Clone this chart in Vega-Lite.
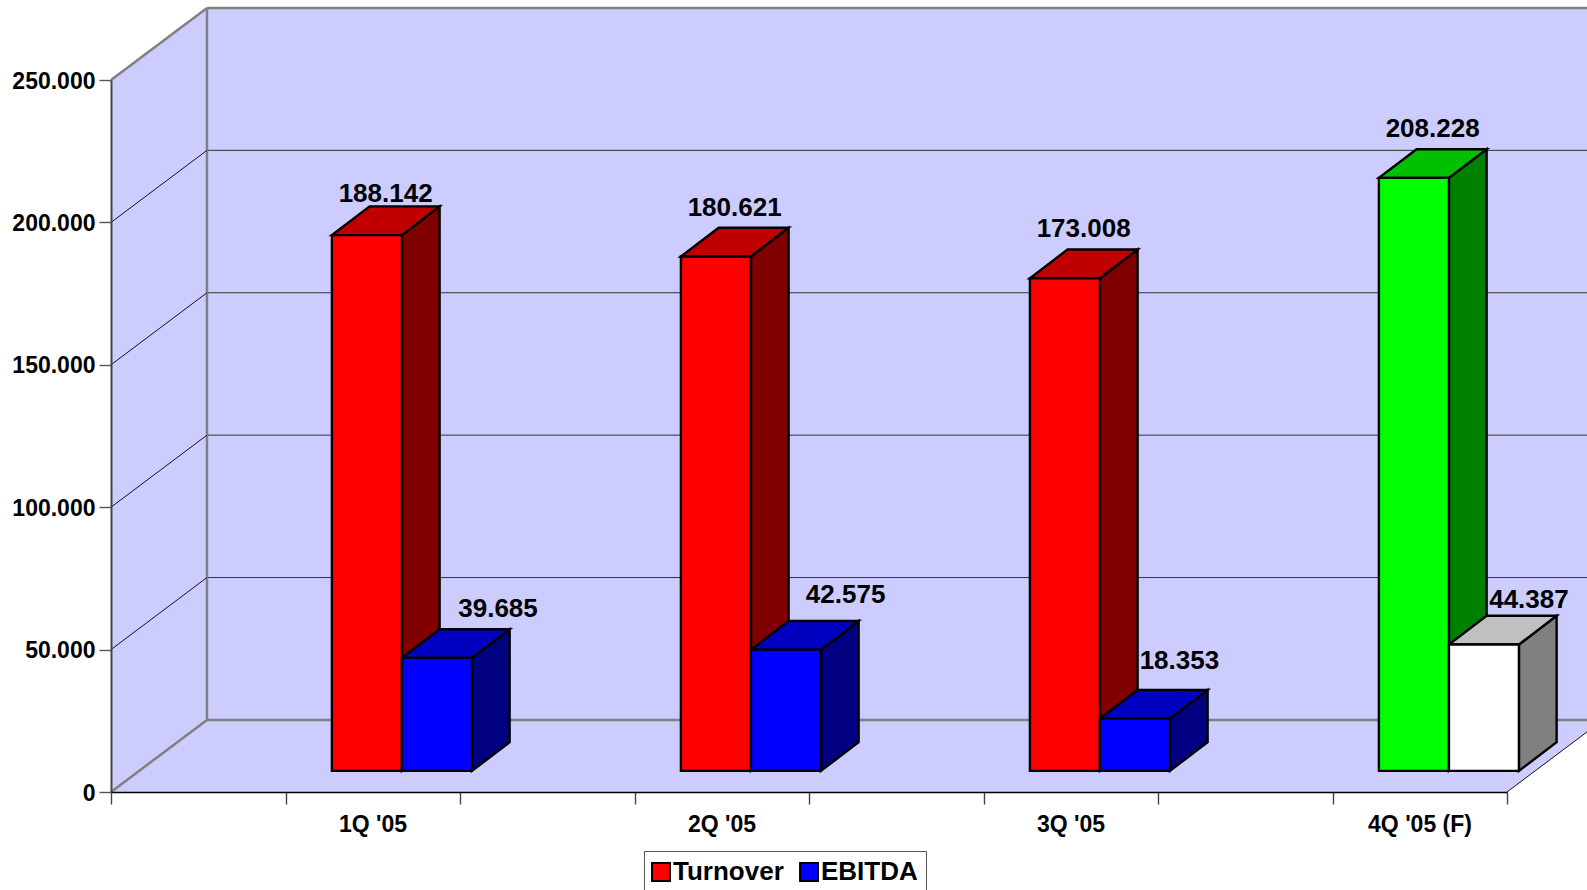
{
"$schema":"https://vega.github.io/schema/vega-lite/v6.json",
"autosize":{"type":"none"},
"width":1396,"height":712,
"padding":{"left":111,"top":80,"right":80,"bottom":98},
"background":"#ffffff",
"config":{"view":{"stroke":null},"font":"Liberation Sans"},
"datasets":{
 "depth":[{"t":0},{"t":1}],
 "levels":[{"level":0},{"level":50000},{"level":100000},{"level":150000},{"level":200000},{"level":250000}]
},
"data":{"values":[
 {"quarter":"1Q '05","series":"Turnover","value":188142},
 {"quarter":"2Q '05","series":"Turnover","value":180621},
 {"quarter":"3Q '05","series":"Turnover","value":173008},
 {"quarter":"4Q '05 (F)","series":"Turnover","value":208228},
 {"quarter":"1Q '05","series":"EBITDA","value":39685},
 {"quarter":"2Q '05","series":"EBITDA","value":42575},
 {"quarter":"3Q '05","series":"EBITDA","value":18353},
 {"quarter":"4Q '05 (F)","series":"EBITDA","value":44387}
]},
"transform":[
 {"calculate":"indexof([\"1Q '05\",\"2Q '05\",\"3Q '05\",\"4Q '05 (F)\"],datum.quarter)","as":"i"},
 {"calculate":"datum.series=='EBITDA'?1:0","as":"s"},
 {"calculate":"datum.i+0.633+datum.s*0.2006","as":"x0"},
 {"calculate":"datum.x0+0.2006","as":"x1"},
 {"calculate":"7400","as":"yBase"},
 {"calculate":"datum.value+7400","as":"yTop"},
 {"calculate":"datum.series+(datum.i==3?' F':'')","as":"key"},
 {"calculate":"datum.key+' side'","as":"sideKey"},
 {"calculate":"datum.key+' top'","as":"topKey"},
 {"calculate":"replace(format(datum.value,','),',','.')","as":"label"},
 {"calculate":"datum.x0+0.1003+(datum.s==0?0.0536:[0.175,0.171,0.1275,0.129][datum.i])","as":"labelX"},
 {"calculate":"datum.yTop+10080+(datum.s==0?[4455,6935,7100,7200]:[6925,9065,10125,5515])[datum.i]","as":"labelY"}
],
"layer":[
 {"data":{"name":"depth"},"transform":[{"filter":"datum.t==0"}],
  "mark":{"type":"rect","fill":"#CCCCFF"},
  "encoding":{
   "x":{"datum":0.275,"type":"quantitative","scale":{"domain":[0,4],"nice":false,"zero":false},
    "axis":{"title":null,"grid":false,"zindex":1,"values":[0,0.5,1,1.5,2,2.5,3,3.5,4],
     "labelExpr":"datum.value%1==0.5?[\"1Q '05\",\"2Q '05\",\"3Q '05\",\"4Q '05 (F)\"][floor(datum.value)]:''",
     "labelOffset":87,"labelOverlap":false,"labelFlush":false,"labelBound":false,"labelAngle":0,"labelAlign":"center",
     "labelFont":"Liberation Sans","labelFontWeight":"bold","labelFontSize":23,"labelColor":"#000000","labelPadding":9,
     "tickSize":12,"tickColor":"#444444","tickWidth":1.4,"domainColor":"#000000","domainWidth":1.4}},
   "x2":{"datum":4.4},
   "y":{"datum":25300,"type":"quantitative","scale":{"domain":[0,250000],"nice":false,"zero":false},
    "axis":{"title":null,"grid":false,"zindex":1,"values":[0,50000,100000,150000,200000,250000],
     "labelExpr":"replace(format(datum.value,','),',','.')",
     "labelFont":"Liberation Sans","labelFontWeight":"bold","labelFontSize":23,"labelColor":"#000000","labelPadding":4,"labelOffset":1,
     "labelOverlap":false,"labelBound":false,"labelFlush":false,
     "tickSize":12,"tickColor":"#555555","tickWidth":1.4,"domainColor":"#444444","domainWidth":2}},
   "y2":{"datum":275300}
  }},
 {"data":{"name":"depth"},
  "transform":[{"calculate":"datum.t*0.275","as":"px"},{"calculate":"250000+datum.t*25300","as":"py"},{"calculate":"datum.t*25300","as":"py2"}],
  "mark":{"type":"area","orient":"vertical","fill":"#CCCCFF","stroke":null},
  "encoding":{
   "x":{"field":"px","type":"quantitative","scale":{"domain":[0,4],"nice":false,"zero":false}},
   "y":{"field":"py","type":"quantitative","stack":null,"scale":{"domain":[0,250000],"nice":false,"zero":false}},
   "y2":{"field":"py2"}
  }},
 {"data":{"name":"depth"},
  "transform":[{"calculate":"datum.t*0.275","as":"px"},{"calculate":"4+datum.t*0.275","as":"px2"},{"calculate":"datum.t*25300","as":"py"}],
  "mark":{"type":"area","orient":"horizontal","fill":"#CCCCFF","stroke":null},
  "encoding":{
   "y":{"field":"py","type":"quantitative","scale":{"domain":[0,250000],"nice":false,"zero":false}},
   "x":{"field":"px","type":"quantitative","stack":null,"scale":{"domain":[0,4],"nice":false,"zero":false}},
   "x2":{"field":"px2"}
  }},
 {"data":{"name":"levels"},"transform":[{"filter":"datum.level>0&&datum.level<250000"},{"calculate":"datum.level+25300","as":"backY"}],
  "mark":{"type":"rule","stroke":"#333333","strokeWidth":1},
  "encoding":{
   "x":{"datum":0.275,"type":"quantitative","scale":{"domain":[0,4],"nice":false,"zero":false}},
   "x2":{"datum":4.4},
   "y":{"field":"backY","type":"quantitative","scale":{"domain":[0,250000],"nice":false,"zero":false}}
  }},
 {"data":{"name":"levels"},"transform":[{"filter":"datum.level==0||datum.level==250000"},{"calculate":"datum.level+25300","as":"backY"}],
  "mark":{"type":"rule","stroke":"#808080","strokeWidth":2.5},
  "encoding":{
   "x":{"datum":0.275,"type":"quantitative","scale":{"domain":[0,4],"nice":false,"zero":false}},
   "x2":{"datum":4.4},
   "y":{"field":"backY","type":"quantitative","scale":{"domain":[0,250000],"nice":false,"zero":false}}
  }},
 {"data":{"name":"levels"},"transform":[{"filter":"datum.level==0"}],
  "mark":{"type":"rule","stroke":"#808080","strokeWidth":2.5},
  "encoding":{
   "x":{"datum":0.275,"type":"quantitative","scale":{"domain":[0,4],"nice":false,"zero":false}},
   "y":{"datum":25300,"type":"quantitative","scale":{"domain":[0,250000],"nice":false,"zero":false}},
   "y2":{"datum":275300}
  }},
 {"data":{"name":"levels"},"transform":[{"filter":"datum.level>0&&datum.level<250000"},{"calculate":"[0,1]","as":"t"},{"flatten":["t"]},{"calculate":"datum.t*0.275","as":"px"},{"calculate":"datum.level+datum.t*25300","as":"py"}],
  "mark":{"type":"line","stroke":"#111111","strokeWidth":1},
  "encoding":{
   "x":{"field":"px","type":"quantitative","scale":{"domain":[0,4],"nice":false,"zero":false}},
   "y":{"field":"py","type":"quantitative","scale":{"domain":[0,250000],"nice":false,"zero":false}},
   "detail":{"field":"level","type":"quantitative"}
  }},
 {"data":{"name":"levels"},"transform":[{"filter":"datum.level==0||datum.level==250000"},{"calculate":"[0,1]","as":"t"},{"flatten":["t"]},{"calculate":"datum.t*0.275","as":"px"},{"calculate":"datum.level+datum.t*25300","as":"py"}],
  "mark":{"type":"line","stroke":"#808080","strokeWidth":2.5},
  "encoding":{
   "x":{"field":"px","type":"quantitative","scale":{"domain":[0,4],"nice":false,"zero":false}},
   "y":{"field":"py","type":"quantitative","scale":{"domain":[0,250000],"nice":false,"zero":false}},
   "detail":{"field":"level","type":"quantitative"}
  }},
 {"data":{"name":"depth"},"transform":[{"calculate":"4+datum.t*0.275","as":"px"},{"calculate":"datum.t*25300","as":"py"}],
  "mark":{"type":"line","stroke":"#111111","strokeWidth":1},
  "encoding":{
   "x":{"field":"px","type":"quantitative","scale":{"domain":[0,4],"nice":false,"zero":false}},
   "y":{"field":"py","type":"quantitative","scale":{"domain":[0,250000],"nice":false,"zero":false}}
  }},
 {"transform":[{"filter":"datum.s==0"},{"calculate":"[0,1]","as":"t"},{"flatten":["t"]},{"calculate":"datum.x1+datum.t*0.108","as":"px"},{"calculate":"datum.yTop+datum.t*10080","as":"py"},{"calculate":"datum.yBase+datum.t*10080","as":"py2"}],
  "mark":{"type":"area","orient":"vertical","stroke":"#000000","strokeWidth":2.4,"strokeJoin":"miter"},
  "encoding":{
   "x":{"field":"px","type":"quantitative","scale":{"domain":[0,4],"nice":false,"zero":false}},
   "y":{"field":"py","type":"quantitative","stack":null,"scale":{"domain":[0,250000],"nice":false,"zero":false}},
   "y2":{"field":"py2"},
   "detail":{"field":"quarter"},
   "fill":{"field":"sideKey","type":"nominal","scale":{"domain":["Turnover","EBITDA","Turnover F","EBITDA F","Turnover top","EBITDA top","Turnover F top","EBITDA F top","Turnover side","EBITDA side","Turnover F side","EBITDA F side"],"range":["#FF0000","#0000FF","#00FF00","#FFFFFF","#C00000","#0000C0","#00C000","#C0C0C0","#800000","#000080","#008000","#808080"]}}
  }},
 {"transform":[{"filter":"datum.s==0"},{"calculate":"[0,1]","as":"t"},{"flatten":["t"]},{"calculate":"datum.x0+datum.t*0.108","as":"px"},{"calculate":"datum.x1+datum.t*0.108","as":"px2"},{"calculate":"datum.yTop+datum.t*10080","as":"py"}],
  "mark":{"type":"area","orient":"horizontal","stroke":"#000000","strokeWidth":2.4,"strokeJoin":"miter"},
  "encoding":{
   "y":{"field":"py","type":"quantitative","scale":{"domain":[0,250000],"nice":false,"zero":false}},
   "x":{"field":"px","type":"quantitative","stack":null,"scale":{"domain":[0,4],"nice":false,"zero":false}},
   "x2":{"field":"px2"},
   "detail":{"field":"quarter"},
   "fill":{"field":"topKey","type":"nominal","scale":{"domain":["Turnover","EBITDA","Turnover F","EBITDA F","Turnover top","EBITDA top","Turnover F top","EBITDA F top","Turnover side","EBITDA side","Turnover F side","EBITDA F side"],"range":["#FF0000","#0000FF","#00FF00","#FFFFFF","#C00000","#0000C0","#00C000","#C0C0C0","#800000","#000080","#008000","#808080"]}}
  }},
 {"transform":[{"filter":"datum.s==1"},{"calculate":"[0,1]","as":"t"},{"flatten":["t"]},{"calculate":"datum.x1+datum.t*0.108","as":"px"},{"calculate":"datum.yTop+datum.t*10080","as":"py"},{"calculate":"datum.yBase+datum.t*10080","as":"py2"}],
  "mark":{"type":"area","orient":"vertical","stroke":"#000000","strokeWidth":2.4,"strokeJoin":"miter"},
  "encoding":{
   "x":{"field":"px","type":"quantitative","scale":{"domain":[0,4],"nice":false,"zero":false}},
   "y":{"field":"py","type":"quantitative","stack":null,"scale":{"domain":[0,250000],"nice":false,"zero":false}},
   "y2":{"field":"py2"},
   "detail":{"field":"quarter"},
   "fill":{"field":"sideKey","type":"nominal","scale":{"domain":["Turnover","EBITDA","Turnover F","EBITDA F","Turnover top","EBITDA top","Turnover F top","EBITDA F top","Turnover side","EBITDA side","Turnover F side","EBITDA F side"],"range":["#FF0000","#0000FF","#00FF00","#FFFFFF","#C00000","#0000C0","#00C000","#C0C0C0","#800000","#000080","#008000","#808080"]}}
  }},
 {"transform":[{"filter":"datum.s==1"},{"calculate":"[0,1]","as":"t"},{"flatten":["t"]},{"calculate":"datum.x0+datum.t*0.108","as":"px"},{"calculate":"datum.x1+datum.t*0.108","as":"px2"},{"calculate":"datum.yTop+datum.t*10080","as":"py"}],
  "mark":{"type":"area","orient":"horizontal","stroke":"#000000","strokeWidth":2.4,"strokeJoin":"miter"},
  "encoding":{
   "y":{"field":"py","type":"quantitative","scale":{"domain":[0,250000],"nice":false,"zero":false}},
   "x":{"field":"px","type":"quantitative","stack":null,"scale":{"domain":[0,4],"nice":false,"zero":false}},
   "x2":{"field":"px2"},
   "detail":{"field":"quarter"},
   "fill":{"field":"topKey","type":"nominal","scale":{"domain":["Turnover","EBITDA","Turnover F","EBITDA F","Turnover top","EBITDA top","Turnover F top","EBITDA F top","Turnover side","EBITDA side","Turnover F side","EBITDA F side"],"range":["#FF0000","#0000FF","#00FF00","#FFFFFF","#C00000","#0000C0","#00C000","#C0C0C0","#800000","#000080","#008000","#808080"]}}
  }},
 {"mark":{"type":"rect","stroke":"#000000","strokeWidth":2.4},
  "encoding":{
   "x":{"field":"x0","type":"quantitative","scale":{"domain":[0,4],"nice":false,"zero":false}},
   "x2":{"field":"x1"},
   "y":{"field":"yTop","type":"quantitative","scale":{"domain":[0,250000],"nice":false,"zero":false}},
   "y2":{"field":"yBase"},
   "fill":{"field":"key","type":"nominal",
    "legend":{"values":["Turnover","EBITDA"],"title":null,"orient":"none","legendX":533,"legendY":771,"direction":"horizontal","columns":2,
     "symbolType":"square","symbolSize":320,"symbolStrokeColor":"#000000","symbolStrokeWidth":2,"symbolOffset":-4,
     "labelFont":"Liberation Sans","labelFontWeight":"bold","labelFontSize":26,"labelColor":"#000000","labelOffset":-1,"labelLimit":200,
     "strokeColor":"#555555","fillColor":"#ffffff","padding":8,"columnPadding":12},
    "scale":{"domain":["Turnover","EBITDA","Turnover F","EBITDA F","Turnover top","EBITDA top","Turnover F top","EBITDA F top","Turnover side","EBITDA side","Turnover F side","EBITDA F side"],"range":["#FF0000","#0000FF","#00FF00","#FFFFFF","#C00000","#0000C0","#00C000","#C0C0C0","#800000","#000080","#008000","#808080"]}}
  }},
 {"mark":{"type":"text","font":"Liberation Sans","fontWeight":"bold","fontSize":26,"color":"#000000","baseline":"middle","align":"center"},
  "encoding":{
   "x":{"field":"labelX","type":"quantitative","scale":{"domain":[0,4],"nice":false,"zero":false}},
   "y":{"field":"labelY","type":"quantitative","scale":{"domain":[0,250000],"nice":false,"zero":false}},
   "text":{"field":"label"}
  }}
]
}
